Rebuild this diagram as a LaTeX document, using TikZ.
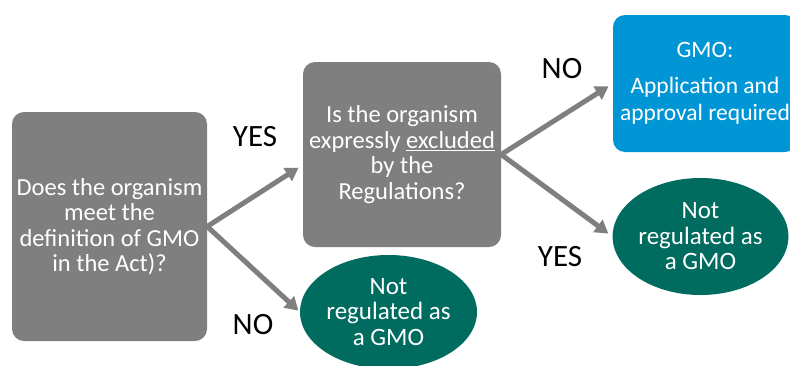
\documentclass[tikz,border=0pt]{standalone}
\usepackage{fontspec}
\setmainfont{Carlito}
\usepackage{tikz}
\usetikzlibrary{positioning}
\usetikzlibrary{shapes.geometric}
\usetikzlibrary{arrows.meta}

\definecolor{boxgray}{HTML}{7F7F7F}
\definecolor{gmoteal}{HTML}{006B5F}
\definecolor{gmoblue}{HTML}{0096D6}

\begin{document}
\begin{tikzpicture}
 [ x=1pt, y=-1pt
 , question/.style={rectangle, rounded corners=12pt, fill=boxgray, text=white, align=center, font=\fontsize{24.5}{25.5}\selectfont, inner sep=0pt}
 , outcome/.style={ellipse, fill=gmoteal, text=white, align=center, font=\fontsize{25}{25.5}\selectfont, inner sep=0pt}
 , approval/.style={rectangle, rounded corners=12pt, fill=gmoblue, text=white, align=center, font=\fontsize{23.5}{27}\selectfont, inner sep=0pt}
 , answer/.style={font=\fontsize{31}{34}\selectfont, text=black}
 , branch/.style={draw=boxgray, line width=5pt, -{Triangle[length=13pt,width=15pt]}}
 ]
  \useasboundingbox (0,0) rectangle (790,365);

  \node [question, minimum width=195pt, minimum height=229pt] (definition) at (109.5,226.5)
    {Does the organism\\meet the\\definition of GMO\\in the Act)?};
  \node [question, minimum width=198pt, minimum height=185pt] (excluded) at (402,154.5)
    {Is the organism\\expressly \underline{excluded}\\by the\\Regulations?};
  \node [outcome, minimum width=177pt, minimum height=114pt] (notgmoA) at (388.5,312)
    {Not\\regulated as\\a GMO};
  \node [approval, minimum width=184pt, minimum height=137pt] (gmo) at (705,83.5)
    {GMO:\\[9pt]Application and\\approval required};
  \node [outcome, minimum width=175pt, minimum height=117pt] (notgmoB) at (700.5,236.5)
    {Not\\regulated as\\a GMO};

  \draw [branch, shorten >=5pt] (definition.east) -- (excluded.186);
  \draw [branch, shorten >=2pt] (definition.east) -- (notgmoA.west);
  \draw [branch, shorten >=5pt] (excluded.east) -- (gmo.west);
  \draw [branch, shorten >=5pt] (excluded.east) -- (notgmoB.west);

  \node [answer] (yesA) at (255,137) {YES};
  \node [answer] (noA) at (253,325) {NO};
  \node [answer] (noB) at (562,69) {NO};
  \node [answer] (yesB) at (560,257) {YES};
\end{tikzpicture}
\end{document}
